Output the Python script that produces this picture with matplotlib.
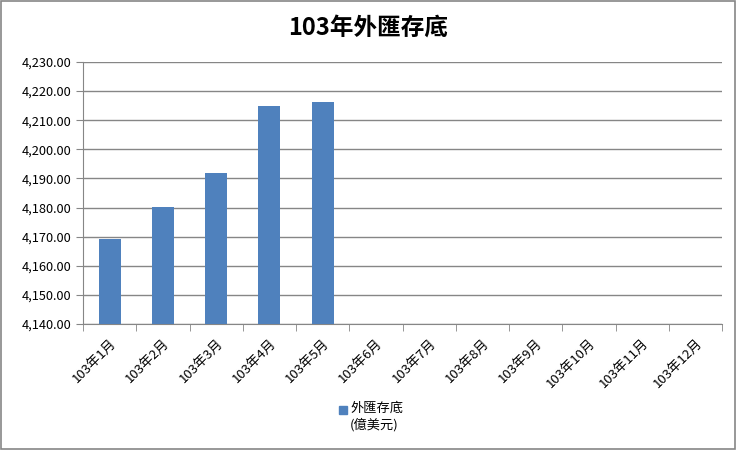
import matplotlib
matplotlib.use("Agg")
import matplotlib.pyplot as plt
from matplotlib.ticker import FuncFormatter, MultipleLocator
from matplotlib.patches import Rectangle

plt.rcParams["font.family"] = ["Noto Sans CJK TC", "DejaVu Sans"]

months = ["103年%d月" % m for m in range(1, 13)]
reserves = [4169.2, 4180.1, 4191.9, 4214.9, 4216.3]
title = "103年外匯存底"
series_label = "外匯存底\n(億美元)"
bar_color = "#4f81bd"
grid_color = "#868686"

fig = plt.figure(figsize=(7.36, 4.5), dpi=100)
ax = fig.add_axes([83 / 736, 1 - 324 / 450, (722 - 83) / 736, (324 - 62) / 450])

x = list(range(len(months)))
ax.bar(x[:len(reserves)], reserves, width=0.41, color=bar_color, zorder=3)

ax.set_xlim(-0.5, len(months) - 0.5)
ax.set_ylim(4140, 4230)
ax.yaxis.set_major_locator(MultipleLocator(10))
ax.yaxis.set_major_formatter(FuncFormatter(lambda v, p: f"{v:,.2f}"))
ax.grid(axis="y", color=grid_color, linewidth=1, zorder=0)

ax.set_xticks(x)
ax.set_xticklabels(months, rotation=45, ha="right", rotation_mode="anchor", fontsize=9.5)
ax.tick_params(axis="x", length=0, pad=9)
ax.set_xticks([i + 0.5 for i in range(-1, len(months))], minor=True)
ax.tick_params(axis="x", which="minor", length=5, color=grid_color, direction="out")
ax.tick_params(axis="y", length=5, color=grid_color, labelsize=9.2, direction="out")

for side in ["top", "right"]:
    ax.spines[side].set_visible(False)
for side in ["left", "bottom"]:
    ax.spines[side].set_color(grid_color)

fig.text(0.5, 1 - 28 / 450, title, ha="center", va="center", fontsize=17, fontweight="bold")

# legend at the bottom
fig.patches.append(Rectangle((339 / 736, 1 - 414 / 450), 8 / 736, 8 / 450,
                             transform=fig.transFigure, color=bar_color))
fig.text(350 / 736, 1 - 402 / 450, series_label, ha="left", va="top", fontsize=9.5, linespacing=1.3)

# outer border
fig.patches.append(Rectangle((0.001, 0.002), 0.997, 0.995, transform=fig.transFigure,
                             fill=False, edgecolor=grid_color, linewidth=1.2))

fig.savefig("out.png", dpi=100)
